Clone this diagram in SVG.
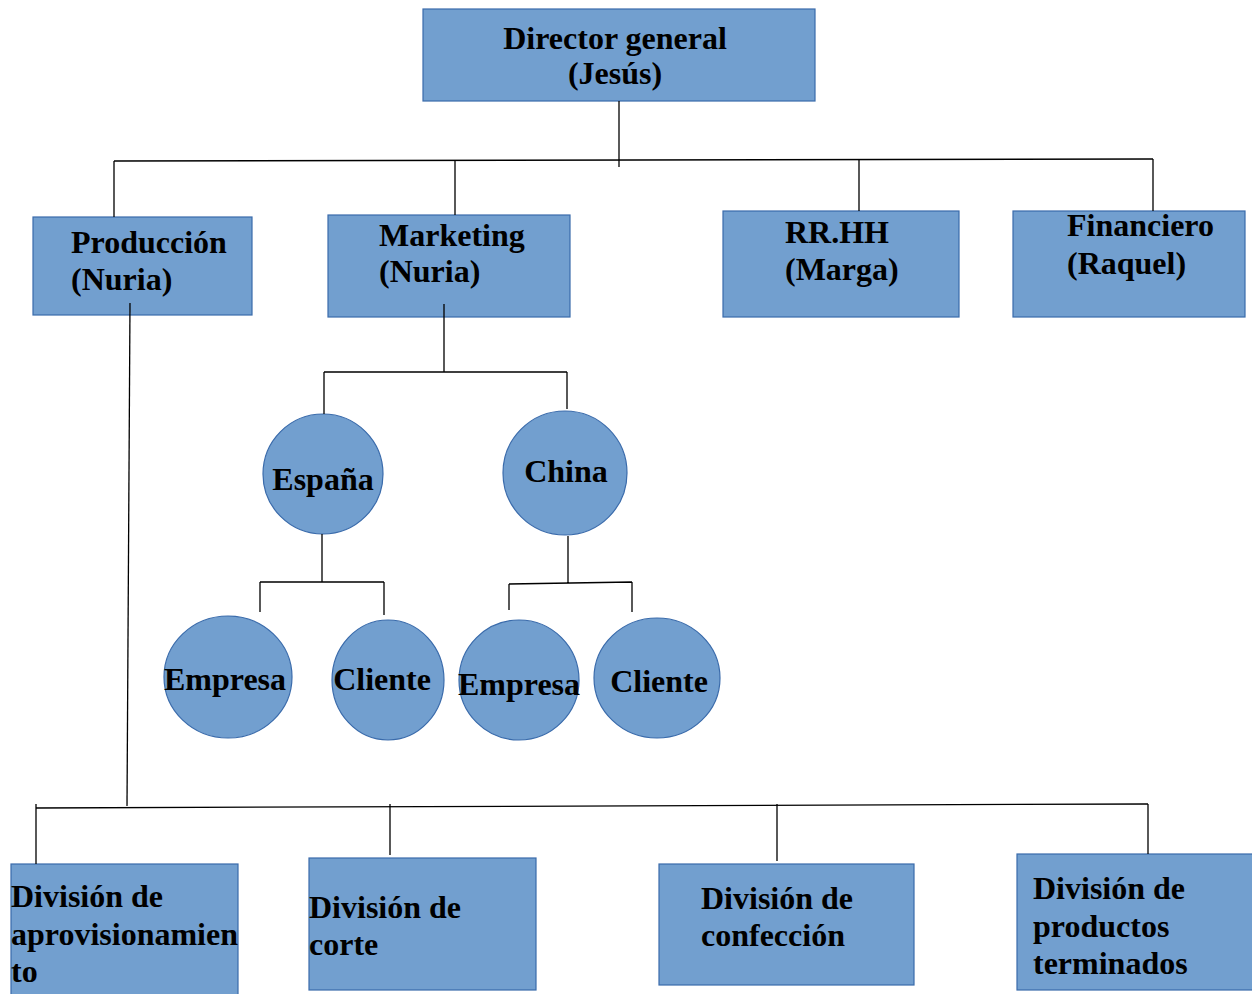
<svg xmlns="http://www.w3.org/2000/svg" width="1252" height="994" viewBox="0 0 1252 994">
<style>
.n{fill:#729fcf;stroke:#3a6bab;stroke-width:1.2}
.t{font-family:"Liberation Serif","Times New Roman",serif;font-weight:bold;font-size:32px;fill:#000}
.m{text-anchor:middle}
.c{fill:none;stroke:#000;stroke-width:1.3}
</style>
<rect width="1252" height="994" fill="#fff"/>
<g id="director"><rect class="n" x="423" y="9" width="392" height="92"/>
<text class="t m" x="615" y="49">Director general</text><text class="t m" x="615" y="84">(Jesús)</text></g>
<g id="produccion"><rect class="n" x="33" y="217" width="219" height="98"/>
<text class="t" x="71" y="253">Producción</text><text class="t" x="71" y="290">(Nuria)</text></g>
<g id="marketing"><rect class="n" x="328" y="215" width="242" height="102"/>
<text class="t" x="379" y="246">Marketing</text><text class="t" x="379" y="282">(Nuria)</text></g>
<g id="rrhh"><rect class="n" x="723" y="211" width="236" height="106"/>
<text class="t" x="785" y="243">RR.HH</text><text class="t" x="785" y="280">(Marga)</text></g>
<g id="financiero"><rect class="n" x="1013" y="211" width="232" height="106"/>
<text class="t" x="1067" y="236">Financiero</text><text class="t" x="1067" y="274">(Raquel)</text></g>
<g id="espana"><ellipse class="n" cx="323" cy="474" rx="60" ry="60"/>
<text class="t m" x="323" y="490">España</text></g>
<g id="china"><ellipse class="n" cx="565" cy="473" rx="62" ry="62"/>
<text class="t m" x="566" y="482">China</text></g>
<g id="empresa1"><ellipse class="n" cx="228" cy="677" rx="64" ry="61"/>
<text class="t m" x="225" y="690">Empresa</text></g>
<g id="cliente1"><ellipse class="n" cx="388" cy="680" rx="56" ry="60"/>
<text class="t m" x="382" y="690">Cliente</text></g>
<g id="empresa2"><ellipse class="n" cx="519" cy="680" rx="60" ry="60"/>
<text class="t m" x="519" y="695">Empresa</text></g>
<g id="cliente2"><ellipse class="n" cx="657" cy="678" rx="63" ry="60"/>
<text class="t m" x="659" y="692">Cliente</text></g>
<g id="div1"><rect class="n" x="11" y="864" width="227" height="135"/>
<text class="t" x="11" y="907">División de</text><text class="t" x="11" y="945">aprovisionamien</text><text class="t" x="11" y="982">to</text></g>
<g id="div2"><rect class="n" x="309" y="858" width="227" height="132"/>
<text class="t" x="309" y="918">División de</text><text class="t" x="309" y="955">corte</text></g>
<g id="div3"><rect class="n" x="659" y="864" width="255" height="121"/>
<text class="t" x="701" y="909">División de</text><text class="t" x="701" y="946">confección</text></g>
<g id="div4"><rect class="n" x="1017" y="854" width="240" height="136"/>
<text class="t" x="1033" y="899">División de</text><text class="t" x="1033" y="937">productos</text><text class="t" x="1033" y="974">terminados</text></g>
<g id="connectors" class="c">
<path d="M619 101V167"/>
<path d="M114 161L1153 159"/>
<path d="M114 161V217M455 160V215M859 160V211M1153 159V211"/>
<path d="M130 303L127 806"/>
<path d="M444 304V372M324 372H567M324 372V414M567 372V409"/>
<path d="M322 534V582M260 582H384M260 582V612M384 582V615"/>
<path d="M568 536V584M509 584L632 582M509 584V610M632 582V612"/>
<path d="M36 808L1148 804"/>
<path d="M36 804V864M390 804V855M777 804V861M1148 804V854"/>
</g>
</svg>
